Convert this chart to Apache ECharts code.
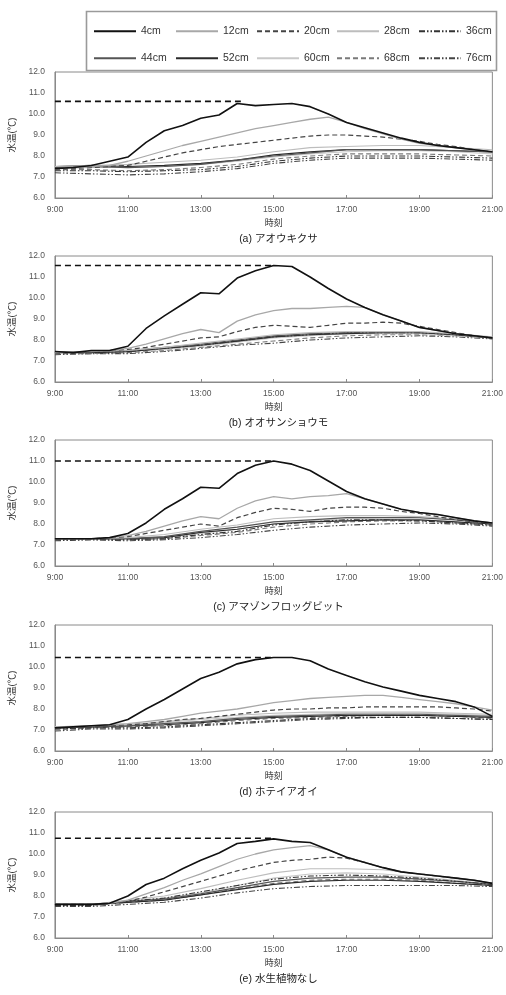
<!DOCTYPE html>
<html>
<head>
<meta charset="utf-8">
<title>水温の鉛直分布</title>
<script src="https://cdn.jsdelivr.net/npm/echarts@6/dist/echarts.min.js"></script>
<style>
  html, body { margin: 0; padding: 0; background: #fff; }
  #main { width: 506px; height: 995px; }
</style>
</head>
<body>
<div id="main"></div>
<script>
// 時刻（30分ごと / 1時間ごと）
var hoursHalf = [9, 9.5, 10, 10.5, 11, 11.5, 12, 12.5, 13, 13.5, 14, 14.5, 15, 15.5, 16, 16.5, 17, 17.5, 18, 18.5, 19, 19.5, 20, 20.5, 21];
var hoursFull = [9, 10, 11, 12, 13, 14, 15, 16, 17, 18, 19, 20, 21];
var xTicks = [9, 11, 13, 15, 17, 19, 21];

var depths = ['4cm', '12cm', '20cm', '28cm', '36cm', '44cm', '52cm', '60cm', '68cm', '76cm'];
var panelTitles = ['(a) アオウキクサ', '(b) オオサンショウモ', '(c) アマゾンフロッグビット', '(d) ホテイアオイ', '(e) 水生植物なし'];

// 4cm のピーク（破線）
var peakValues = [10.6, 11.55, 11.0, 10.45, 10.75];
var peakTimes = [14.1, 15.0, 15.0, 15.0, 15.0];

// (a) アオウキクサ
var a4  = [7.4, 7.45, 7.55, 7.75, 7.95, 8.65, 9.2, 9.45, 9.8, 9.95, 10.5, 10.4, 10.45, 10.5, 10.35, 10.0, 9.6, 9.35, 9.1, 8.85, 8.65, 8.5, 8.4, 8.3, 8.2];
var a12 = [7.4, 7.45, 7.5, 7.55, 7.75, 8.0, 8.25, 8.5, 8.7, 8.9, 9.1, 9.3, 9.45, 9.6, 9.75, 9.85, 9.6, 9.3, 9.05, 8.8, 8.6, 8.5, 8.4, 8.3, 8.2];
var a20 = [7.4, 7.4, 7.45, 7.5, 7.55, 7.75, 7.95, 8.15, 8.3, 8.45, 8.55, 8.65, 8.75, 8.85, 8.95, 9.0, 9.0, 8.95, 8.9, 8.8, 8.7, 8.55, 8.45, 8.3, 8.2];
var a28 = [7.5, 7.55, 7.6, 7.7, 7.8, 7.95, 8.2, 8.4, 8.45, 8.5, 8.5, 8.4, 8.3];
var a36 = [7.3, 7.3, 7.25, 7.3, 7.35, 7.5, 7.75, 7.9, 8.0, 8.0, 8.0, 7.95, 7.9];
var a44 = [7.45, 7.5, 7.45, 7.5, 7.6, 7.8, 8.0, 8.15, 8.3, 8.3, 8.3, 8.25, 8.2];
var a52 = [7.5, 7.55, 7.5, 7.55, 7.65, 7.8, 8.05, 8.2, 8.3, 8.3, 8.3, 8.25, 8.2];
var a60 = [7.4, 7.45, 7.45, 7.5, 7.6, 7.75, 7.95, 8.1, 8.2, 8.25, 8.25, 8.2, 8.1];
var a68 = [7.35, 7.35, 7.3, 7.35, 7.45, 7.6, 7.85, 8.0, 8.1, 8.1, 8.1, 8.05, 8.0];
var a76 = [7.2, 7.15, 7.1, 7.15, 7.25, 7.4, 7.65, 7.8, 7.9, 7.9, 7.9, 7.85, 7.8];

// (b) オオサンショウモ
var b4  = [7.45, 7.4, 7.5, 7.5, 7.7, 8.55, 9.15, 9.7, 10.25, 10.2, 10.95, 11.3, 11.55, 11.5, 11.0, 10.45, 9.95, 9.55, 9.2, 8.9, 8.6, 8.45, 8.3, 8.2, 8.1];
var b12 = [7.4, 7.45, 7.45, 7.5, 7.6, 7.8, 8.05, 8.3, 8.5, 8.35, 8.9, 9.2, 9.4, 9.5, 9.5, 9.55, 9.6, 9.55, 9.2, 8.9, 8.6, 8.45, 8.3, 8.2, 8.1];
var b20 = [7.4, 7.4, 7.45, 7.5, 7.55, 7.65, 7.8, 7.95, 8.1, 8.15, 8.4, 8.6, 8.7, 8.65, 8.6, 8.7, 8.8, 8.8, 8.85, 8.8, 8.65, 8.5, 8.35, 8.2, 8.1];
var b28 = [7.45, 7.45, 7.5, 7.65, 7.85, 8.05, 8.25, 8.35, 8.4, 8.4, 8.4, 8.3, 8.15];
var b36 = [7.4, 7.4, 7.45, 7.6, 7.75, 7.95, 8.15, 8.25, 8.35, 8.35, 8.35, 8.25, 8.1];
var b44 = [7.45, 7.45, 7.5, 7.65, 7.8, 8.0, 8.2, 8.3, 8.35, 8.4, 8.35, 8.25, 8.1];
var b52 = [7.4, 7.4, 7.45, 7.6, 7.75, 7.95, 8.15, 8.25, 8.3, 8.35, 8.35, 8.25, 8.1];
var b60 = [7.4, 7.4, 7.45, 7.55, 7.7, 7.9, 8.1, 8.2, 8.3, 8.3, 8.3, 8.2, 8.1];
var b68 = [7.35, 7.35, 7.4, 7.5, 7.65, 7.8, 7.95, 8.1, 8.2, 8.25, 8.25, 8.2, 8.1];
var b76 = [7.3, 7.35, 7.35, 7.45, 7.6, 7.75, 7.85, 8.0, 8.1, 8.15, 8.2, 8.15, 8.05];

// (c) アマゾンフロッグビット
var c4  = [7.3, 7.3, 7.3, 7.35, 7.55, 8.05, 8.7, 9.2, 9.75, 9.7, 10.4, 10.8, 11.0, 10.85, 10.55, 10.05, 9.55, 9.2, 8.95, 8.7, 8.55, 8.45, 8.3, 8.15, 8.05];
var c12 = [7.3, 7.3, 7.3, 7.35, 7.45, 7.65, 7.9, 8.15, 8.35, 8.25, 8.75, 9.1, 9.3, 9.2, 9.3, 9.35, 9.45, 9.2, 8.95, 8.7, 8.55, 8.45, 8.3, 8.15, 8.05];
var c20 = [7.3, 7.3, 7.3, 7.35, 7.4, 7.55, 7.7, 7.85, 8.0, 7.9, 8.3, 8.55, 8.75, 8.7, 8.6, 8.75, 8.8, 8.8, 8.75, 8.6, 8.5, 8.35, 8.2, 8.1, 8.05];
var c28 = [7.3, 7.3, 7.35, 7.5, 7.75, 7.95, 8.25, 8.35, 8.4, 8.4, 8.35, 8.25, 8.05];
var c36 = [7.25, 7.25, 7.25, 7.3, 7.5, 7.65, 7.95, 8.1, 8.2, 8.2, 8.15, 8.05, 7.95];
var c44 = [7.3, 7.3, 7.3, 7.4, 7.65, 7.85, 8.1, 8.2, 8.3, 8.3, 8.3, 8.2, 8.05];
var c52 = [7.3, 7.3, 7.3, 7.35, 7.6, 7.75, 8.0, 8.1, 8.15, 8.2, 8.2, 8.1, 8.0];
var c60 = [7.3, 7.3, 7.3, 7.35, 7.55, 7.75, 8.0, 8.15, 8.25, 8.3, 8.3, 8.2, 8.05];
var c68 = [7.25, 7.3, 7.25, 7.3, 7.45, 7.6, 7.85, 8.0, 8.1, 8.15, 8.15, 8.05, 7.95];
var c76 = [7.2, 7.25, 7.2, 7.25, 7.35, 7.5, 7.7, 7.85, 7.95, 8.0, 8.05, 8.0, 7.9];

// (d) ホテイアオイ
var d4  = [7.1, 7.15, 7.2, 7.25, 7.5, 8.0, 8.45, 8.95, 9.45, 9.75, 10.15, 10.35, 10.45, 10.45, 10.3, 9.9, 9.6, 9.3, 9.05, 8.85, 8.65, 8.5, 8.35, 8.1, 7.65];
var d12 = [7.1, 7.15, 7.2, 7.25, 7.3, 7.4, 7.5, 7.65, 7.8, 7.9, 8.0, 8.15, 8.3, 8.4, 8.5, 8.55, 8.6, 8.65, 8.65, 8.55, 8.45, 8.35, 8.25, 8.1, 7.95];
var d20 = [7.1, 7.1, 7.15, 7.2, 7.25, 7.3, 7.4, 7.5, 7.55, 7.65, 7.75, 7.85, 7.95, 8.0, 8.0, 8.05, 8.05, 8.1, 8.1, 8.1, 8.1, 8.1, 8.05, 8.0, 7.9];
var d28 = [7.15, 7.2, 7.25, 7.4, 7.55, 7.7, 7.8, 7.85, 7.85, 7.85, 7.85, 7.8, 7.75];
var d36 = [7.05, 7.1, 7.1, 7.15, 7.25, 7.35, 7.45, 7.55, 7.6, 7.6, 7.6, 7.55, 7.5];
var d44 = [7.1, 7.15, 7.2, 7.3, 7.4, 7.55, 7.65, 7.7, 7.75, 7.75, 7.75, 7.7, 7.65];
var d52 = [7.1, 7.15, 7.2, 7.25, 7.35, 7.5, 7.6, 7.65, 7.7, 7.7, 7.7, 7.65, 7.6];
var d60 = [7.15, 7.2, 7.25, 7.35, 7.5, 7.6, 7.7, 7.75, 7.8, 7.8, 7.8, 7.75, 7.7];
var d68 = [7.0, 7.1, 7.15, 7.2, 7.3, 7.45, 7.55, 7.6, 7.65, 7.7, 7.7, 7.65, 7.55];
var d76 = [6.95, 7.05, 7.05, 7.1, 7.2, 7.3, 7.4, 7.5, 7.55, 7.6, 7.6, 7.55, 7.5];

// (e) 水生植物なし
var e4  = [7.6, 7.6, 7.6, 7.65, 8.0, 8.55, 8.85, 9.3, 9.7, 10.05, 10.5, 10.6, 10.72, 10.6, 10.55, 10.2, 9.85, 9.6, 9.35, 9.15, 9.05, 8.95, 8.85, 8.75, 8.6];
var e12 = [7.6, 7.6, 7.6, 7.65, 7.8, 8.1, 8.4, 8.75, 9.05, 9.4, 9.75, 10.0, 10.2, 10.3, 10.4, 10.2, 9.85, 9.6, 9.35, 9.15, 9.05, 8.95, 8.85, 8.75, 8.6];
var e20 = [7.6, 7.6, 7.6, 7.65, 7.75, 7.95, 8.2, 8.45, 8.7, 8.95, 9.2, 9.4, 9.6, 9.7, 9.75, 9.85, 9.8, 9.6, 9.35, 9.15, 9.05, 8.95, 8.85, 8.75, 8.6];
var e28 = [7.6, 7.6, 7.8, 8.0, 8.35, 8.75, 9.1, 9.3, 9.3, 9.25, 9.05, 8.85, 8.6];
var e36 = [7.55, 7.55, 7.75, 7.9, 8.2, 8.5, 8.8, 8.95, 9.0, 8.95, 8.85, 8.7, 8.55];
var e44 = [7.6, 7.6, 7.75, 7.85, 8.1, 8.4, 8.7, 8.85, 8.9, 8.9, 8.8, 8.7, 8.55];
var e52 = [7.6, 7.6, 7.7, 7.8, 8.05, 8.3, 8.55, 8.7, 8.75, 8.75, 8.7, 8.6, 8.5];
var e60 = [7.6, 7.6, 7.75, 7.9, 8.15, 8.5, 8.85, 9.05, 9.1, 9.05, 8.9, 8.75, 8.55];
var e68 = [7.55, 7.55, 7.7, 7.8, 8.05, 8.35, 8.6, 8.75, 8.8, 8.8, 8.75, 8.6, 8.5];
var e76 = [7.5, 7.5, 7.6, 7.7, 7.9, 8.15, 8.35, 8.45, 8.5, 8.5, 8.5, 8.5, 8.45];

var panels = [
  [a4, a12, a20, a28, a36, a44, a52, a60, a68, a76],
  [b4, b12, b20, b28, b36, b44, b52, b60, b68, b76],
  [c4, c12, c20, c28, c36, c44, c52, c60, c68, c76],
  [d4, d12, d20, d28, d36, d44, d52, d60, d68, d76],
  [e4, e12, e20, e28, e36, e44, e52, e60, e68, e76]
];

(function() {
  'use strict';
  var echarts = window.echarts;
  var chart = echarts.init(document.getElementById('main'), null, { renderer: 'canvas' });

  var FONT = "'Liberation Sans', 'Noto Sans CJK JP', sans-serif";
  var DASHDOT = [6, 2, 1.5, 2, 1.5, 2];

  // 深さごとの線種
  var lineStyles = [
    { color: '#111', width: 1.6, type: 'solid' },
    { color: '#a8a8a8', width: 1.3, type: 'solid' },
    { color: '#444', width: 1.2, type: [5, 3] },
    { color: '#bdbdbd', width: 1.1, type: 'solid' },
    { color: '#333', width: 1.1, type: DASHDOT },
    { color: '#555', width: 1.2, type: 'solid' },
    { color: '#2a2a2a', width: 1.2, type: 'solid' },
    { color: '#c8c8c8', width: 1.1, type: 'solid' },
    { color: '#7a7a7a', width: 1.1, type: [5, 3] },
    { color: '#444', width: 1.1, type: DASHDOT }
  ];

  var gridTops = [72, 256, 440, 625, 812];
  var gridH = 126;
  var plotLeft = 53, plotRight = 494;

  var grids = [], xAxes = [], yAxes = [], series = [], titles = [];

  gridTops.forEach(function(top, p) {
    grids.push({
      left: plotLeft, width: plotRight - plotLeft, top: top, height: gridH,
      show: true, borderColor: '#8a8a8a', borderWidth: 1
    });
    xAxes.push({
      type: 'value', gridIndex: p, min: 9, max: 21, interval: 2,
      name: '時刻', nameLocation: 'middle', nameGap: 21,
      nameTextStyle: { fontFamily: FONT, fontSize: 9, color: '#333' },
      axisLine: { show: true, lineStyle: { color: '#8a8a8a' } },
      axisTick: { show: true, inside: true, length: 3, lineStyle: { color: '#8a8a8a' } },
      axisLabel: {
        fontFamily: FONT, fontSize: 8.5, color: '#555', margin: 7,
        formatter: function(v) { return xTicks.indexOf(v) >= 0 ? v + ':00' : ''; }
      },
      splitLine: { show: false }
    });
    yAxes.push({
      type: 'value', gridIndex: p, min: 6, max: 12, interval: 1,
      name: '水温(℃)', nameLocation: 'middle', nameGap: 32, nameRotate: 90,
      nameTextStyle: { fontFamily: FONT, fontSize: 9.5, color: '#333' },
      axisLine: { show: true, lineStyle: { color: '#8a8a8a' } },
      axisTick: { show: false },
      axisLabel: {
        fontFamily: FONT, fontSize: 8.5, color: '#555', margin: 10,
        formatter: function(v) { return v.toFixed(1); }
      },
      splitLine: { show: false }
    });
    titles.push({
      text: panelTitles[p], left: (plotLeft + plotRight) / 2, textAlign: 'center',
      top: top + gridH + 31,
      textStyle: { fontFamily: FONT, fontSize: 10.5, fontWeight: 'normal', color: '#222' }
    });

    // 下層から描いて 4cm を最前面に
    for (var k = depths.length - 1; k >= 0; k--) {
      var vals = panels[p][k];
      var xs = k < 3 ? hoursHalf : hoursFull;
      series.push({
        name: depths[k], type: 'line', xAxisIndex: p, yAxisIndex: p,
        symbol: 'none', silent: true,
        lineStyle: lineStyles[k],
        itemStyle: { color: lineStyles[k].color },
        data: vals.map(function(v, i) { return [xs[i], v]; }),
        z: 2 + (depths.length - k)
      });
    }
    // ピーク値の破線
    series.push({
      name: 'peak', type: 'line', xAxisIndex: p, yAxisIndex: p,
      symbol: 'none', silent: true,
      lineStyle: { color: '#111', width: 1.6, type: [6, 4] },
      data: [[9, peakValues[p]], [peakTimes[p], peakValues[p]]],
      z: 20
    });
  });

  // 凡例（1項目ずつ配置、記号なしの線のみ）
  var legends = [];
  var colLeft = [88, 170, 251, 331, 413];
  var rowTop = [21, 48];
  depths.forEach(function(name, k) {
    legends.push({
      show: true,
      data: [name], left: colLeft[k % 5], top: rowTop[Math.floor(k / 5)],
      itemWidth: 42, itemHeight: 10, itemGap: 4,
      selectedMode: false, z: 10,
      itemStyle: { opacity: 0, borderWidth: 0 },
      textStyle: { fontFamily: FONT, fontSize: 10.5, color: '#333' }
    });
  });

  var option = {
    animation: false,
    backgroundColor: '#fff',
    title: titles,
    legend: legends,
    grid: grids,
    xAxis: xAxes,
    yAxis: yAxes,
    series: series,
    graphic: [{
      type: 'rect', left: 84, top: 9, silent: true,
      shape: { width: 410, height: 59 },
      style: { fill: 'none', stroke: '#9a9a9a', lineWidth: 1.6 }
    }]
  };

  chart.setOption(option);
}());
</script>
</body>
</html>
